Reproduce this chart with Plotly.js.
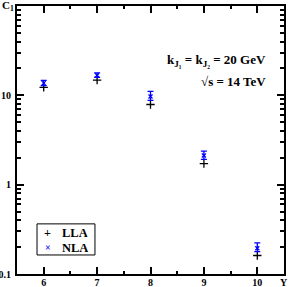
<!DOCTYPE html>
<html><head><meta charset="utf-8">
<script src="https://cdn.plot.ly/plotly-3.0.1.min.js"></script>
<style>body{margin:0;padding:0;background:#fff}#chart{width:290px;height:287px}</style>
</head><body><div id="chart"></div>
<script>
const rapidity = [6, 7, 8, 9, 10];
const llaValues = [12.3, 14.8, 7.9, 1.72, 0.161];
const nlaValues = [13.7, 16.8, 9.7, 2.12, 0.194];
const nlaErrPlus = [1.0, 1.0, 1.4, 0.25, 0.029];
const nlaErrMinus = [0.85, 0.9, 0.9, 0.2, 0.016];
const yTickVals = [0.1, 1, 10];
const yTickText = ['0.1', '1', '10'];
const xTickVals = [6, 7, 8, 9, 10];
const seriesNames = ['LLA', 'NLA'];

const F = 'Liberation Serif, Times New Roman, serif';
const traces = [
  {x: rapidity, y: llaValues, name: seriesNames[0], type: 'scatter', mode: 'markers', showlegend: false,
   marker: {symbol: 'cross-thin', size: 6, color: '#000', line: {width: 1.3, color: '#000'}}},
  {x: rapidity, y: nlaValues, name: seriesNames[1], type: 'scatter', mode: 'markers', showlegend: false,
   marker: {symbol: 'x-thin', size: 4, color: '#0000ff', line: {width: 1.3, color: '#0000ff'}},
   error_y: {type: 'data', symmetric: false, array: nlaErrPlus, arrayminus: nlaErrMinus,
             color: '#0000ff', thickness: 1.3, width: 3}}
];
const axisCommon = {showline: true, linecolor: '#000', linewidth: 2, mirror: 'ticks',
  ticks: 'inside', ticklen: 7, tickwidth: 2, tickcolor: '#000', showgrid: false, zeroline: false,
  tickfont: {family: F, size: 10, color: '#000', weight: 'bold'}};
const bf = (s, c) => ({family: F, size: s, color: c || '#000', weight: 'bold'});
const layout = {
  width: 290, height: 287,
  margin: {l: 17, r: 6, t: 6, b: 13},
  paper_bgcolor: '#fff', plot_bgcolor: '#fff',
  showlegend: false,
  xaxis: Object.assign({}, axisCommon, {range: [5.5, 10.5], tickvals: xTickVals, ticklabelstandoff: -2,
    minor: {dtick: 0.5, ticks: 'inside', ticklen: 3, tickwidth: 2, tickcolor: '#000', showgrid: false}}),
  yaxis: Object.assign({}, axisCommon, {type: 'log', range: [-1, 2], tickvals: yTickVals, ticktext: yTickText,
    ticklabelstandoff: 2,
    minor: {tickvals: [0.2,0.3,0.4,0.5,0.6,0.7,0.8,0.9,2,3,4,5,6,7,8,9,20,30,40,50,60,70,80,90],
      ticks: 'inside', ticklen: 4, tickwidth: 2, tickcolor: '#000', showgrid: false}}),
  shapes: [
    {type: 'rect', xref: 'paper', yref: 'paper', x0: 0.075, x1: 0.292, y0: 0.071, y1: 0.187,
     line: {color: '#000', width: 1}, fillcolor: '#fff'}
  ],
  annotations: [
    {xref: 'paper', yref: 'paper', x: -0.063, y: 1.0, xanchor: 'left', yanchor: 'middle', showarrow: false,
     text: 'C<sub>1</sub>', font: bf(11)},
    {xref: 'paper', yref: 'paper', x: 1.0, y: -0.03, xanchor: 'center', yanchor: 'middle', showarrow: false,
     text: 'Y', font: bf(10), borderpad: 0, height: 11},
    {xref: 'paper', yref: 'paper', x: 0.94, y: 0.795, xanchor: 'right', yanchor: 'middle', showarrow: false,
     text: 'k<sub>J₁</sub> = k<sub>J₂</sub> = 20 GeV', font: bf(13)},
    {xref: 'paper', yref: 'paper', x: 0.94, y: 0.72, xanchor: 'right', yanchor: 'middle', showarrow: false,
     text: '√s = 14 TeV', font: bf(13)},
    {xref: 'paper', yref: 'paper', x: 0.116, y: 0.153, xanchor: 'center', yanchor: 'middle', showarrow: false,
     text: '+', font: bf(12), borderpad: 0, height: 12},
    {xref: 'paper', yref: 'paper', x: 0.116, y: 0.100, xanchor: 'center', yanchor: 'middle', showarrow: false,
     text: '×', font: bf(10, '#0000ff'), borderpad: 0, height: 11},
    {xref: 'paper', yref: 'paper', x: 0.166, y: 0.153, xanchor: 'left', yanchor: 'middle', showarrow: false,
     text: seriesNames[0], font: bf(12.5), borderpad: 0, height: 13},
    {xref: 'paper', yref: 'paper', x: 0.166, y: 0.100, xanchor: 'left', yanchor: 'middle', showarrow: false,
     text: seriesNames[1], font: bf(12.5), borderpad: 0, height: 13}
  ]
};
Plotly.newPlot('chart', traces, layout, {staticPlot: true, displayModeBar: false});
</script></body></html>
